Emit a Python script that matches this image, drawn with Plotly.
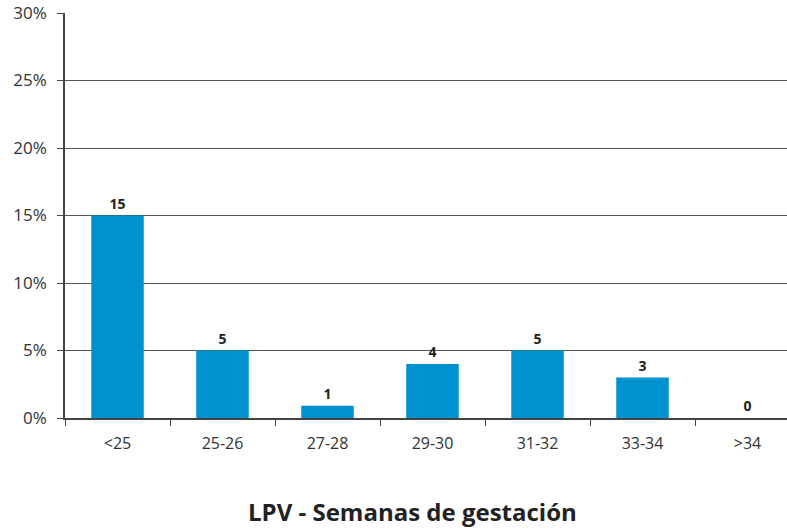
import plotly.graph_objects as go

categories = ["<25", "25-26", "27-28", "29-30", "31-32", "33-34", ">34"]
percent = [15, 5, 0.9, 4, 5, 3, 0]
counts = [15, 5, 1, 4, 5, 3, 0]
y_ticks = [0, 5, 10, 15, 20, 25, 30]
y_tick_labels = ["0%", "5%", "10%", "15%", "20%", "25%", "30%"]

FONT = "Open Sans, Liberation Sans, sans-serif"

fig = go.Figure()
fig.add_trace(go.Bar(
    x=categories,
    y=percent,
    text=[str(c) for c in counts],
    textposition="outside",
    textfont=dict(family=FONT, size=14, color="#222222", weight="bold"),
    marker=dict(color="#0092CE", line=dict(width=0)),
    width=0.5,
    cliponaxis=False,
))

fig.update_layout(
    width=805, height=529,
    margin=dict(l=65, r=5, t=13, b=111),
    plot_bgcolor="white", paper_bgcolor="white",
    showlegend=False,
    font=dict(family=FONT, size=16, color="#333333"),
    xaxis=dict(
        type="category",
        showline=True, linecolor="#444444", linewidth=1.5,
        ticks="outside", tickson="boundaries", ticklen=6, tickcolor="#444444",
        showgrid=False,
        tickfont=dict(size=16, color="#333333"),
        ticklabelstandoff=10,
        automargin=False,
    ),
    yaxis=dict(
        range=[0, 30],
        tickvals=y_ticks, ticktext=y_tick_labels,
        showline=True, linecolor="#444444", linewidth=1.5,
        ticks="outside", ticklen=6, tickcolor="#444444",
        showgrid=True, gridcolor="#555555", gridwidth=1,
        tickfont=dict(size=17, color="#333333"),
        ticklabelstandoff=7,
        zeroline=False,
        automargin=False,
    ),
    annotations=[dict(
        text="<b>LPV - Semanas de gestación</b>",
        xref="paper", yref="paper", x=0.473, y=-0.232,
        xanchor="center", yanchor="middle", showarrow=False,
        font=dict(family=FONT, size=24, color="#222222"),
    )],
)

fig.write_html(
    "out.html",
    config={"displayModeBar": False},
    post_script="document.body.style.margin='0';document.body.style.overflow='hidden';",
)
